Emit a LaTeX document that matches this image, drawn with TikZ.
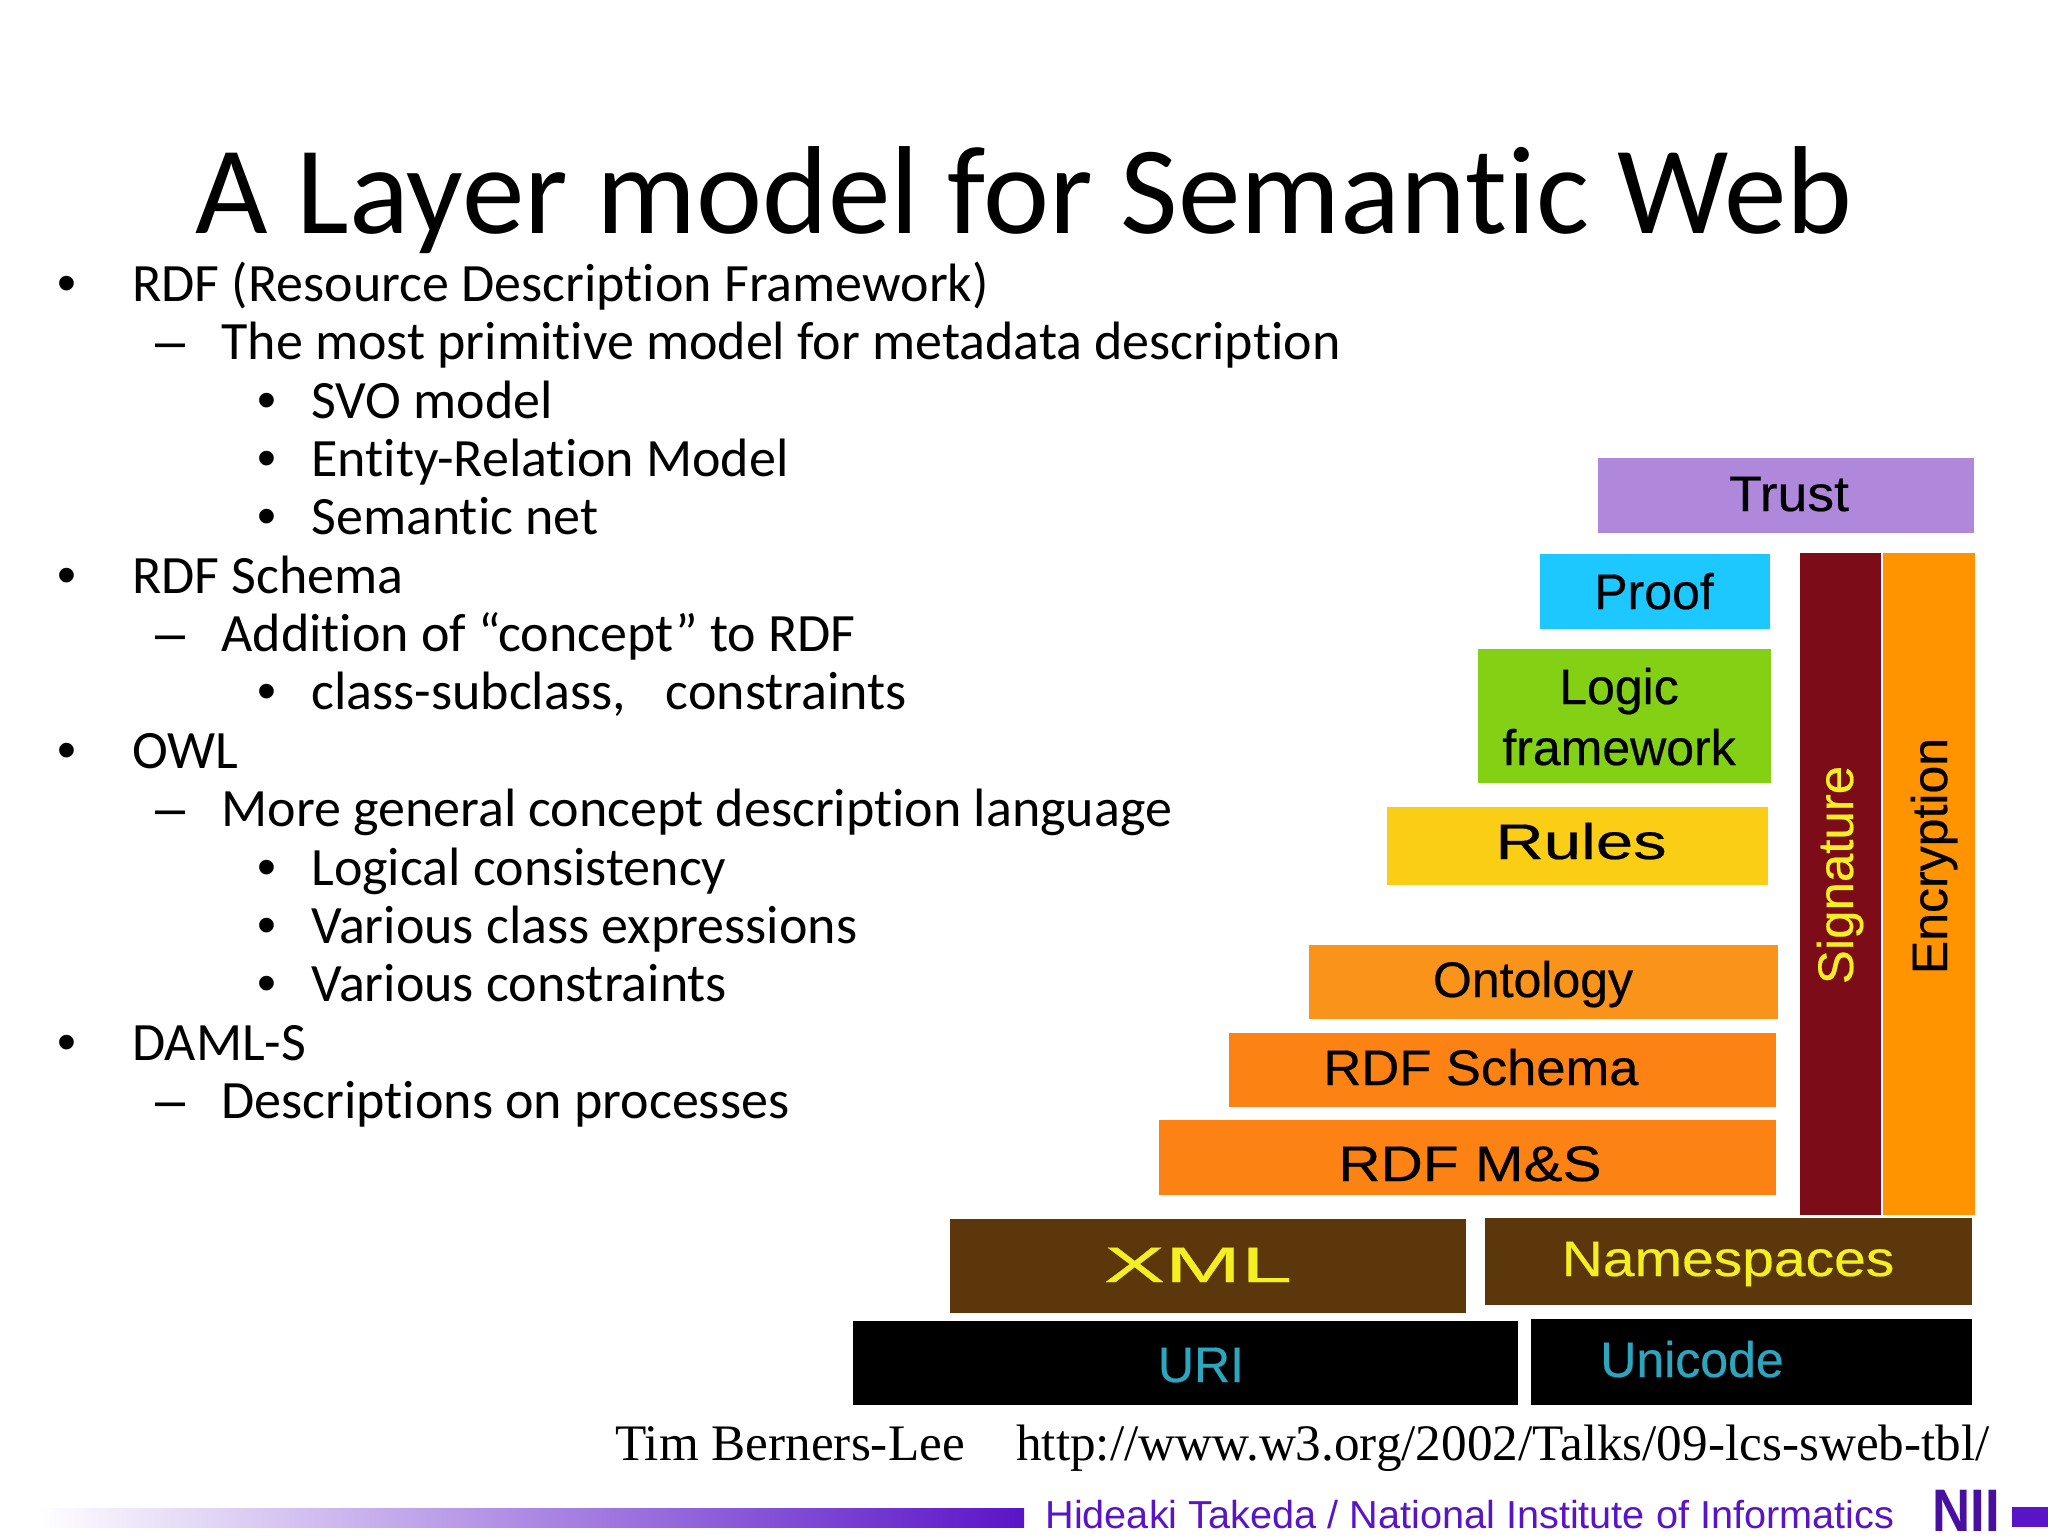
\documentclass[tikz,border=0pt]{standalone}
\usepackage{fontspec}
\setmainfont{Carlito}[Ligatures=NoCommon]
\newfontfamily\arialfont{Liberation Sans}
\newfontfamily\layerfont{Liberation Sans}[FakeBold=0.4]
\newfontfamily\timesfont{Liberation Serif}
\definecolor{trustcol}{HTML}{AF87DB}
\definecolor{proofcol}{HTML}{1CC8FF}
\definecolor{logiccol}{HTML}{84D014}
\definecolor{rulescol}{HTML}{F9CE15}
\definecolor{ontocol}{HTML}{FA9319}
\definecolor{rdfcol}{HTML}{FB8213}
\definecolor{sigcol}{HTML}{7C0C18}
\definecolor{enccol}{HTML}{FF9300}
\definecolor{xmlcol}{HTML}{5C370C}
\definecolor{cyancol}{HTML}{2CA5BE}
\definecolor{yellowcol}{HTML}{F5EE20}
\definecolor{niicol}{HTML}{5A14C8}
\definecolor{barmid}{HTML}{B8B0E6}
\begin{document}
\begin{tikzpicture}
[x=0.5pt, y=-0.5pt,
layerbox/.style={rectangle, inner sep=0, outer sep=0, anchor=north west},
layertext/.style={inner sep=0, anchor=base, font=\layerfont\fontsize{25}{30}\selectfont},
sidetext/.style={inner sep=0, anchor=base, rotate=90, font=\layerfont\fontsize{25}{30}\selectfont},
firstitem/.style={inner sep=0, anchor=base west, font=\fontsize{27}{32}\selectfont, execute at begin node={\makebox[37.5pt][l]{\arialfont •}}},
seconditem/.style={inner sep=0, anchor=base west, font=\fontsize{27}{32}\selectfont, execute at begin node={\makebox[33pt][l]{\arialfont –}}},
thirditem/.style={inner sep=0, anchor=base west, font=\fontsize{27}{32}\selectfont, execute at begin node={\makebox[27pt][l]{\arialfont •}}}
]
\useasboundingbox (0,0) rectangle (2048,1536);
%Title
\node[inner sep=0, anchor=base, font=\fontsize{62.6}{75}\selectfont] at(1024,233) (title) {A Layer model for Semantic Web};
%List
\node[firstitem]  at(57,301)  (i1)  {RDF (Resource Description Framework)};
\node[seconditem] at(155,359) (i2)  {The most primitive model for metadata description};
\node[thirditem]  at(257,418) (i3)  {SVO model};
\node[thirditem]  at(257,476) (i4)  {Entity-Relation Model};
\node[thirditem]  at(257,534) (i5)  {Semantic net};
\node[firstitem]  at(57,593)  (i6)  {RDF Schema};
\node[seconditem] at(155,651) (i7)  {Addition of “concept” to RDF};
\node[thirditem]  at(257,709) (i8)  {class-subclass,\hspace{20pt}constraints};
\node[firstitem]  at(57,768)  (i9)  {OWL};
\node[seconditem] at(155,826) (i10) {More general concept description language};
\node[thirditem]  at(257,885) (i11) {Logical consistency};
\node[thirditem]  at(257,943) (i12) {Various class expressions};
\node[thirditem]  at(257,1001) (i13) {Various constraints};
\node[firstitem]  at(57,1060) (i14) {DAML-S};
\node[seconditem] at(155,1118) (i15) {Descriptions on processes};
%Layers
\node[layerbox, fill=trustcol, minimum width=188pt, minimum height=37.5pt] at(1598,458) (trust) {};
\node[layerbox, fill=proofcol, minimum width=115pt, minimum height=37.5pt] at(1540,554) (proof) {};
\node[layerbox, fill=logiccol, minimum width=146.5pt, minimum height=67pt] at(1478,649) (logic) {};
\node[layerbox, fill=rulescol, minimum width=190.5pt, minimum height=39pt] at(1387,807) (rules) {};
\node[layerbox, fill=ontocol, minimum width=234.5pt, minimum height=37pt] at(1309,945) (onto) {};
\node[layerbox, fill=rdfcol, minimum width=273.5pt, minimum height=37pt] at(1229,1033) (schema) {};
\node[layerbox, fill=rdfcol, minimum width=308.5pt, minimum height=37.5pt] at(1159,1120) (ms) {};
\node[layerbox, fill=sigcol, minimum width=40.5pt, minimum height=331pt] at(1800,553) (sig) {};
\node[layerbox, fill=enccol, minimum width=46pt, minimum height=331pt] at(1883,553) (enc) {};
\node[layerbox, fill=xmlcol, minimum width=258pt, minimum height=47pt] at(950,1219) (xml) {};
\node[layerbox, fill=xmlcol, minimum width=243.5pt, minimum height=43.5pt] at(1485,1218) (ns) {};
\node[layerbox, fill=black, minimum width=332.5pt, minimum height=42pt] at(853,1321) (uri) {};
\node[layerbox, fill=black, minimum width=220.5pt, minimum height=43pt] at(1531,1319) (uni) {};
%Layer texts
\node[layertext] at(1789,511) (t1) {\scalebox{1.07}[1]{Trust}};
\node[layertext] at(1654,609) (t2) {Proof};
\node[layertext] at(1619,704) (t3) {Logic};
\node[layertext] at(1619,765) (t4) {framework};
\node[layertext] at(1581,859) (t5) {\scalebox{1.34}[1]{Rules}};
\node[layertext] at(1533,997) (t6) {Ontology};
\node[layertext] at(1481,1085) (t7) {\scalebox{1.05}[1]{RDF Schema}};
\node[layertext] at(1470,1181) (t8) {\scalebox{1.17}[1]{RDF M\&S}};
\node[sidetext, text=yellowcol] at(1853,875) (t9) {\scalebox{1.02}[1]{Signature}};
\node[sidetext] at(1947,856) (t10) {Encryption};
\node[layertext, text=yellowcol] at(1198,1282) (t11) {\scalebox{1.83}[1]{XML}};
\node[layertext, text=yellowcol] at(1728,1276) (t12) {\scalebox{1.14}[1]{Namespaces}};
\node[layertext, text=cyancol] at(1201,1382) (t13) {URI};
\node[layertext, text=cyancol] at(1692,1377) (t14) {Unicode};
%Source
\node[inner sep=0, anchor=base west, font=\timesfont\fontsize{25.6}{30}\selectfont] at(615,1460) (author) {Tim Berners-Lee};
\node[inner sep=0, anchor=base east, font=\timesfont\fontsize{25.6}{30}\selectfont] at(1990,1460) (url) {http://www.w3.org/2002/Talks/09-lcs-sweb-tbl/};
%Footer
\node[layerbox, left color=white, middle color=barmid, right color=niicol, minimum width=494.5pt, minimum height=9.5pt] at(35,1508) (bar) {};
\node[inner sep=0, anchor=base west, text=niicol, font=\arialfont\fontsize{19.5}{24}\selectfont] at(1045,1528) (footer) {\scalebox{1.017}[1]{Hideaki Takeda / National Institute of Informatics}};
\node[inner sep=0, anchor=base west, text=niicol!80!black, font=\arialfont\bfseries\fontsize{30}{34}\selectfont] at(1932,1531) (nii) {\scalebox{0.88}[1]{NII}};
\node[layerbox, fill=niicol, minimum width=18pt, minimum height=10pt] at(2012,1507) (sq) {};
\end{tikzpicture}
\end{document}
